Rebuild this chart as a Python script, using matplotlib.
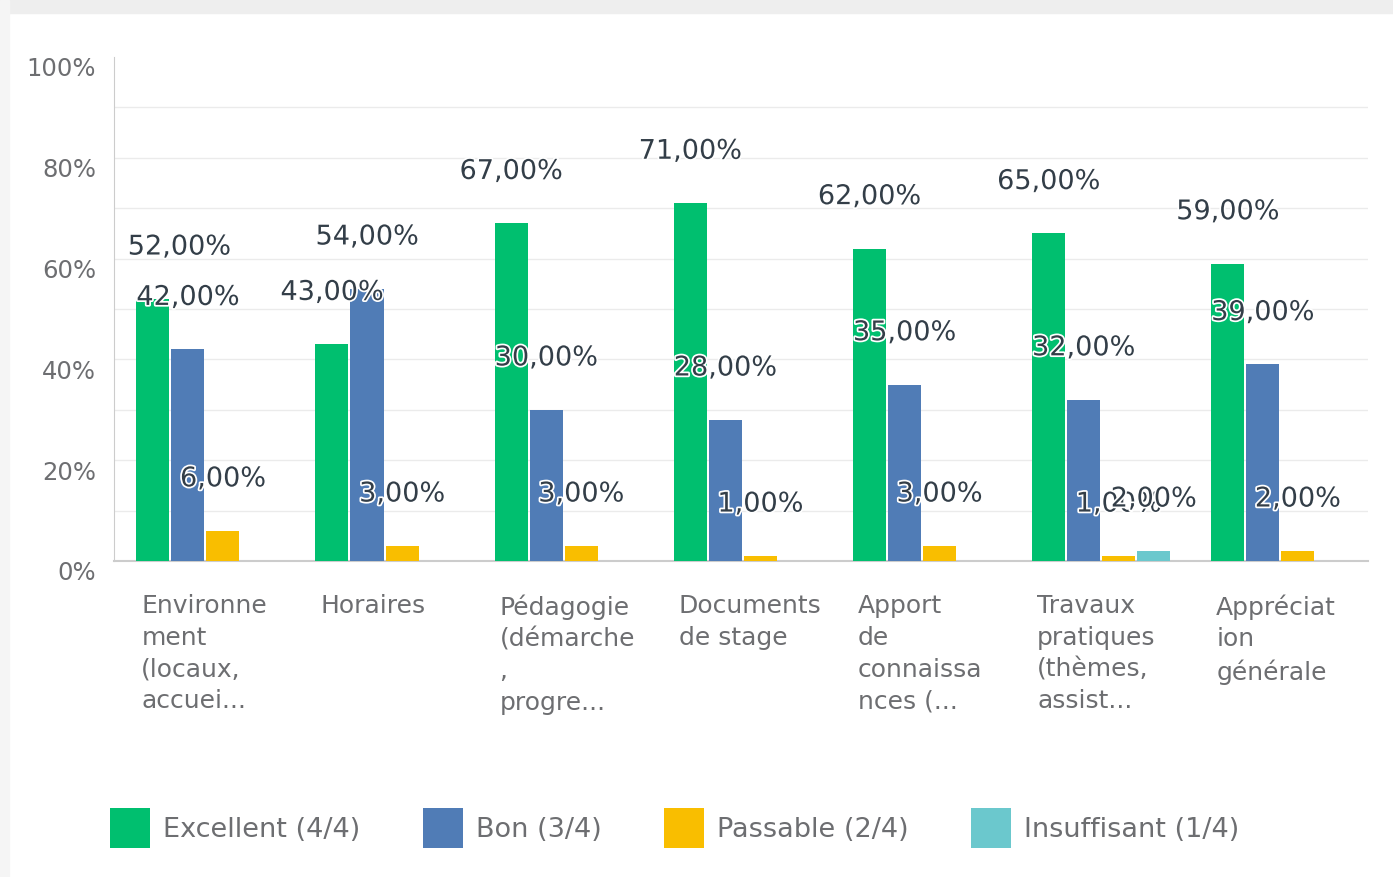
import numpy as np
import matplotlib
matplotlib.use("Agg")
import matplotlib.pyplot as plt
import matplotlib.patheffects as pe
import matplotlib.transforms as mtransforms
from matplotlib.patches import Rectangle

# donnees
categories = [
    "Environne\nment\n(locaux,\naccuei...",
    "Horaires",
    "Pédagogie\n(démarche\n,\nprogre...",
    "Documents\nde stage",
    "Apport\nde\nconnaissa\nnces (...",
    "Travaux\npratiques\n(thèmes,\nassist...",
    "Appréciat\nion\ngénérale",
]
series_names = ["Excellent (4/4)", "Bon (3/4)", "Passable (2/4)", "Insuffisant (1/4)"]
excellent = [52, 43, 67, 71, 62, 65, 59]
bon = [42, 54, 30, 28, 35, 32, 39]
passable = [6, 3, 3, 1, 3, 1, 2]
insuffisant = [0, 0, 0, 0, 0, 2, 0]
colors = ["#00bf6f", "#507cb6", "#f9be00", "#6bc8cd"]

plt.rcParams["font.family"] = ["DejaVu Sans"]

fig = plt.figure(figsize=(13.93, 8.77), dpi=100)
W, H = 1393, 877
ax = fig.add_axes([114 / W, 1 - 561 / H, (1368 - 114) / W, (561 - 57) / H])

# bordure grise en haut / a gauche
fig.patches.append(Rectangle((0, 1 - 13 / H), 1, 13 / H, transform=fig.transFigure,
                             color="#eeeeee", zorder=0))
fig.patches.append(Rectangle((0, 0), 9 / W, 1, transform=fig.transFigure,
                             color="#f5f5f5", zorder=0))

x = np.arange(len(categories))
step = 35 / 179
width = 33 / 179
all_series = [excellent, bon, passable, insuffisant]

for i, (vals, name, col) in enumerate(zip(all_series, series_names, colors)):
    pos = x + (i - 1.5) * step
    ax.bar(pos, vals, width=width, color=col, label=name, zorder=3)
    for j, (p, v) in enumerate(zip(pos, vals)):
        if v == 0:
            continue
        dx = 19 if (i == 0 and j == 0) else 0
        ax.annotate(f"{v:.2f}".replace(".", ",") + "%", (p, v),
                    xytext=(dx, 37), textcoords="offset points",
                    ha="center", va="center", fontsize=19.5, color="#333e48",
                    zorder=5,
                    path_effects=[pe.withStroke(linewidth=2.5, foreground="white")])

ax.set_xlim(-0.51, 6.49)
ax.set_ylim(0, 100)

ax.set_yticks(range(0, 101, 20))
ax.set_yticklabels([f"{v}%" for v in range(0, 101, 20)], fontsize=17.5, color="#6d6e71")
ax.set_yticks(range(10, 100, 20), minor=True)
ax.grid(axis="y", which="both", color="#ebebeb", lw=1, zorder=0)
ax.get_ygridlines()[-1].set_visible(False)
ax.tick_params(axis="y", which="both", length=0, pad=13)
off = mtransforms.ScaledTranslation(0, -10 / 100, fig.dpi_scale_trans)
for lab in ax.get_yticklabels():
    lab.set_transform(lab.get_transform() + off)

ax.set_xticks(x - 64 / 179)
ax.set_xticklabels(categories, fontsize=18, color="#6d6e71", ha="left",
                   va="top", linespacing=1.4)
ax.tick_params(axis="x", length=0, pad=24)

for s in ["top", "right"]:
    ax.spines[s].set_visible(False)
ax.spines["left"].set_color("#cccccc")
ax.spines["bottom"].set_color("#cccccc")
ax.spines["bottom"].set_linewidth(1.5)

fig.legend(loc="center left", bbox_to_anchor=(110 / W, 1 - 828 / H), ncol=4,
           frameon=False, fontsize=19.5, labelcolor="#6d6e71",
           handlelength=1.48, handleheight=1.85, handletextpad=0.48,
           columnspacing=2.3, borderpad=0, borderaxespad=0)

fig.savefig("out.png", dpi=100, facecolor="white")
